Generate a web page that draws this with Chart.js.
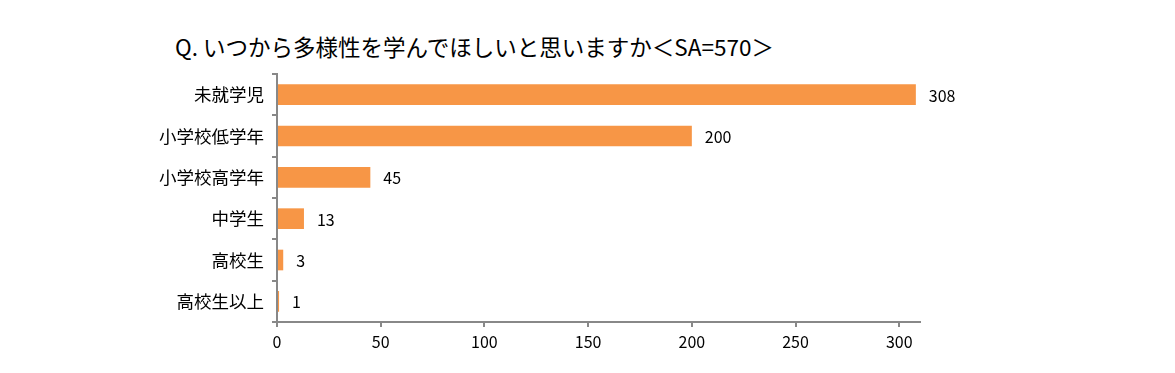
<!DOCTYPE html>
<html>
<head>
<meta charset="utf-8">
<script src="https://cdn.jsdelivr.net/npm/chart.js@4"></script>
<style>
  body { margin: 0; background: #fff; }
  #wrap { position: relative; width: 1175px; height: 373px; }
  #title {
    position: absolute; left: 175px; top: 31px;
    font-family: "Noto Sans CJK JP", sans-serif; font-size: 22.5px; color: #000;
    line-height: 30px; white-space: nowrap;
  }
  canvas { position: absolute; left: 0; top: 0; }
</style>
</head>
<body>
<div id="wrap">
  <div id="title">Q. いつから多様性を学んでほしいと思いますか＜SA=570＞</div>
  <canvas id="chart" width="1175" height="373"></canvas>
</div>
<script>
const categories = ['未就学児', '小学校低学年', '小学校高学年', '中学生', '高校生', '高校生以上'];
const counts = [308, 200, 45, 13, 3, 1];
const xTicks = [0, 50, 100, 150, 200, 250, 300];

const font = "'Noto Sans CJK JP', sans-serif";

// draw the count to the right of each bar
const valueLabels = {
  id: 'valueLabels',
  afterDatasetsDraw(chart) {
    const ctx = chart.ctx;
    const meta = chart.getDatasetMeta(0);
    ctx.save();
    ctx.font = '16px ' + font;
    ctx.fillStyle = '#000';
    ctx.textBaseline = 'middle';
    ctx.textAlign = 'left';
    meta.data.forEach((bar, i) => {
      ctx.fillText(String(counts[i]), bar.x + 13, bar.y + 1);
    });
    ctx.restore();
  }
};

new Chart(document.getElementById('chart'), {
  type: 'bar',
  data: {
    labels: categories,
    datasets: [{
      data: counts,
      backgroundColor: '#F79646',
      borderWidth: 0,
      categoryPercentage: 1,
      barPercentage: 0.5
    }]
  },
  options: {
    indexAxis: 'y',
    responsive: false,
    animation: false,
    layout: { padding: { left: 0, right: 255, top: 74, bottom: 0 } },
    plugins: { legend: { display: false }, tooltip: { enabled: false } },
    scales: {
      x: {
        min: 0,
        max: 310,
        afterBuildTicks(scale) {
          scale.ticks = xTicks.map(v => ({ value: v }));
        },
        afterFit(scale) { scale.height = 51; },
        border: { color: '#888', width: 2 },
        grid: { drawOnChartArea: false, drawTicks: true, tickLength: 5, color: '#888', lineWidth: 2 },
        ticks: { color: '#000', font: { family: font, size: 16 }, padding: 5 }
      },
      y: {
        afterFit(scale) { scale.width = 277; },
        border: { color: '#888', width: 2 },
        grid: { drawOnChartArea: false, drawTicks: true, tickLength: 5, color: '#888', lineWidth: 2, offset: true },
        ticks: { color: '#000', font: { family: font, size: 17.5 }, padding: 8 }
      }
    }
  },
  plugins: [valueLabels]
});
</script>
</body>
</html>
